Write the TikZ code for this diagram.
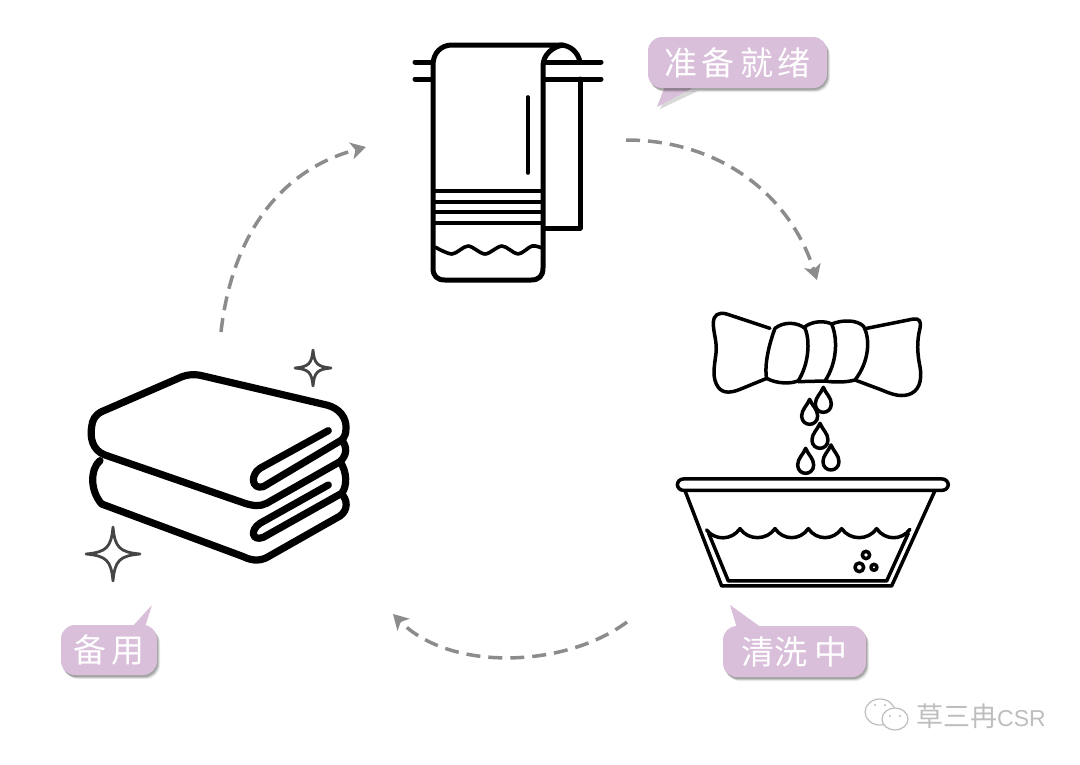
\documentclass[tikz,border=0pt]{standalone}
\usepackage{fontspec}
\newfontfamily\cjk{Noto Sans CJK SC}
\setmainfont{Liberation Sans}
\usetikzlibrary{arrows.meta,shadows}
\definecolor{bubblefill}{HTML}{D9BFDA}
\definecolor{dashgray}{HTML}{8C8C8C}
\definecolor{sparkgray}{HTML}{454545}
\definecolor{markgray}{HTML}{BEBEBE}
\tikzset{
  towelline/.style={line width=5pt,black,line cap=round,line join=round},
  thinline/.style={line width=3.6pt,black,line cap=round,line join=round},
  stackline/.style={line width=7.2pt,black,line cap=round,line join=round},
  basinline/.style={line width=3.5pt,black,line cap=round,line join=round},
  sparkline/.style={line width=2.8pt,sparkgray,line cap=round,line join=round},
  dasharrow/.style={line width=3.5pt,dashgray,dash pattern=on 14pt off 8pt,-{Stealth[length=15pt,width=17pt,inset=4pt]}},
  softshadow/.style={general shadow={shadow xshift=3pt,shadow yshift=-4pt,fill=black,opacity=.08},
                     general shadow={shadow xshift=2pt,shadow yshift=-3pt,fill=black,opacity=.14},
                     general shadow={shadow xshift=1pt,shadow yshift=-2pt,fill=black,opacity=.18}},
  bubble/.style={fill=bubblefill,rounded corners=14pt,inner sep=0pt,text=white,font=\cjk\fontsize{33}{33}\selectfont,softshadow},
  tail/.style={fill=bubblefill},
  tailshadow/.style={fill=black,opacity=.15},
  markstyle/.style={text=markgray,inner sep=0pt},
  zoomA/.style={shift={(660,300)},x=.3333pt,y=-.3333pt},
  zoomB/.style={shift={(50,340)},x=.3333pt,y=-.3333pt},
}
\newcommand{\waterdrop}[2]{%
  \draw[basinline] (#1,#2) .. controls ({#1+8},{#2+20}) and ({#1+24},{#2+30}) .. ({#1+24},{#2+50})
    .. controls ({#1+24},{#2+66}) and ({#1+12},{#2+75}) .. (#1,{#2+75})
    .. controls ({#1-12},{#2+75}) and ({#1-24},{#2+66}) .. ({#1-24},{#2+50})
    .. controls ({#1-24},{#2+30}) and ({#1-8},{#2+20}) .. cycle;}
\newcommand{\sparkle}[3]{%
  \draw[sparkline] (#1,{#2-#3}) .. controls ({#1+.07*#3},{#2-.24*#3}) and ({#1+.24*#3},{#2-.07*#3}) .. ({#1+#3},#2)
    .. controls ({#1+.24*#3},{#2+.07*#3}) and ({#1+.07*#3},{#2+.24*#3}) .. (#1,{#2+#3})
    .. controls ({#1-.07*#3},{#2+.24*#3}) and ({#1-.24*#3},{#2+.07*#3}) .. ({#1-#3},#2)
    .. controls ({#1-.24*#3},{#2-.07*#3}) and ({#1-.07*#3},{#2-.24*#3}) .. cycle;}
\begin{document}
\begin{tikzpicture}[x=1pt,y=-1pt]
\useasboundingbox[fill=white] (0,0) rectangle (1080,764);

% ---- hanging towel
\draw[towelline] (415,62) -- (601,62);
\draw[towelline] (415,79) -- (601,79);
\draw[towelline] (560,45) .. controls (570,45) and (578,52) .. (580,62);
\draw[towelline] (580,79) -- (580,228) -- (543,228);
\draw[towelline,fill=white] (433,65) .. controls (433,53) and (441,45) .. (452,45) -- (563,45)
  .. controls (552,47) and (543,55) .. (543,66) -- (543,268)
  .. controls (543,276) and (539,280) .. (531,280) -- (445,280)
  .. controls (437,280) and (433,276) .. (433,268) -- cycle;
\draw[thinline] (528,97) -- (528,173);
\draw[thinline,line cap=butt] (433,191) -- (543,191);
\draw[thinline,line cap=butt] (433,202) -- (543,202);
\draw[thinline,line cap=butt] (433,212) -- (543,212);
\draw[thinline,line cap=butt] (433,223) -- (543,223);
\draw[thinline,line cap=butt] plot[smooth] coordinates {(435,247) (452,254) (468,246) (485,254) (502,246) (518,254) (532,246) (542,248)};

% ---- wrung towel and basin
\begin{scope}[zoomA]
\draw[basinline] (330,85) -- (200,42) .. controls (175,35) and (160,45) .. (160,70)
  .. controls (160,100) and (172,125) .. (168,160) .. controls (163,200) and (155,235) .. (175,262)
  .. controls (190,282) and (215,278) .. (240,268) -- (318,236);
\draw[basinline] (345,85) .. controls (328,130) and (312,195) .. (320,235)
  .. controls (350,252) and (395,252) .. (415,242)
  .. controls (445,195) and (452,125) .. (435,85)
  .. controls (410,65) and (370,65) .. (345,85) -- cycle;
\draw[basinline] (435,80) .. controls (460,62) and (495,62) .. (515,72)
  .. controls (535,120) and (530,190) .. (495,243) -- (415,245);
\draw[basinline] (515,72) .. controls (550,58) and (590,60) .. (610,78)
  .. controls (632,115) and (628,185) .. (585,240) .. controls (555,248) and (520,247) .. (495,243);
\draw[basinline] (620,85) -- (760,57) .. controls (778,54) and (785,65) .. (780,85)
  .. controls (770,125) and (772,160) .. (780,200) .. controls (788,245) and (775,275) .. (745,284)
  .. controls (715,292) and (690,280) .. (660,268) -- (585,240);
\waterdrop{490}{262}
\waterdrop{449}{298}
\waterdrop{480}{370}
\waterdrop{437}{445}
\waterdrop{513}{435}
\draw[basinline,rounded corners=6pt] (52,537) rectangle (865,571);
\draw[basinline] (75,572) -- (185,858) -- (695,858) -- (825,572);
\draw[basinline] (146,700) -- (205,843) -- (680,843) -- (745,700);
\draw[basinline] (140,690) .. controls (165,722) and (215,722) .. (240,686)
  .. controls (265,722) and (320,722) .. (345,686)
  .. controls (370,722) and (420,722) .. (445,686)
  .. controls (470,722) and (520,722) .. (545,686)
  .. controls (570,722) and (625,722) .. (650,686)
  .. controls (675,722) and (725,722) .. (750,688);
\draw[basinline] (618,765) circle[radius=11];
\draw[basinline] (598,802) circle[radius=13];
\draw[basinline] (642,802) circle[radius=9];
\end{scope}

% ---- folded stack
\begin{scope}[zoomB]
% lower towel
\draw[stackline] (150,362) .. controls (122,385) and (118,450) .. (155,492)
  -- (580,650) .. controls (610,665) and (635,662) .. (655,650)
  -- (870,528) .. controls (895,510) and (893,480) .. (875,462);
\draw[stackline] (835,435) -- (630,550) .. controls (600,570) and (605,605) .. (640,592)
  -- (875,460) .. controls (892,440) and (892,395) .. (870,365);
% upper towel
\draw[stackline] (155,215) -- (385,115) .. controls (405,105) and (430,100) .. (460,108)
  -- (830,195) .. controls (870,205) and (890,235) .. (888,265)
  .. controls (888,280) and (885,290) .. (875,300)
  -- (640,440) .. controls (605,450) and (600,405) .. (630,385) -- (835,272);
\draw[stackline] (875,300) .. controls (892,320) and (892,345) .. (870,365)
  -- (650,490) .. controls (630,500) and (610,498) .. (585,490)
  -- (165,345) .. controls (125,330) and (120,290) .. (125,260) .. controls (127,240) and (135,225) .. (155,215);
\end{scope}
\sparkle{113}{554}{27}
\sparkle{313}{368}{18}

% ---- dashed connectors
\coordinate (a1s) at (626,140);
\coordinate (a1e) at (817,280);
\coordinate (a2s) at (627,622);
\coordinate (a2e) at (393,614);
\coordinate (a3s) at (221,332);
\coordinate (a3e) at (366,147);
\draw[dasharrow] (a1s) .. controls (720,140) and (790,195) .. (a1e);
\draw[dasharrow] (a2s) .. controls (565,668) and (450,672) .. (a2e);
\draw[dasharrow] (a3s) .. controls (232,235) and (280,170) .. (a3e);

% ---- speech bubbles
\fill[tailshadow] (668,90) -- (660,109) -- (698,91) -- cycle;
\fill[tail] (665,86) -- (657,107) -- (696,86) -- cycle;
\node[bubble,minimum width=179pt,minimum height=51pt] (ready) at (737.5,62.5) {\raisebox{-2pt}{准\kern5pt备\kern5pt就\kern5pt绪}};
\fill[tail] (737,628) -- (730,605) -- (762,628) -- cycle;
\node[bubble,minimum width=143pt,minimum height=51pt] (wash) at (794.5,651.5) {\raisebox{-2pt}{清\kern1pt洗\kern7pt中}};
\fill[tail] (132,627) -- (152,605) -- (145,627) -- cycle;
\node[bubble,minimum width=96pt,minimum height=50pt] (spare) at (109,650) {\raisebox{-2pt}{备\kern5pt用}};

% ---- watermark
\node[markstyle,anchor=west] (mark) at (916,716) {{\cjk\fontsize{27}{27}\selectfont 草三冉}{\fontsize{23}{23}\selectfont CSR}};
\draw[markgray,line width=1.2pt,fill=white] (880,712) ellipse[x radius=15,y radius=13];
\draw[markgray,line width=1.2pt,fill=white] (895,719) ellipse[x radius=13,y radius=11];
\fill[markgray] (875,705) circle[radius=1.2] (885,705) circle[radius=1.2] (890,716) circle[radius=1.2] (900,716) circle[radius=1.2];
\end{tikzpicture}
\end{document}
